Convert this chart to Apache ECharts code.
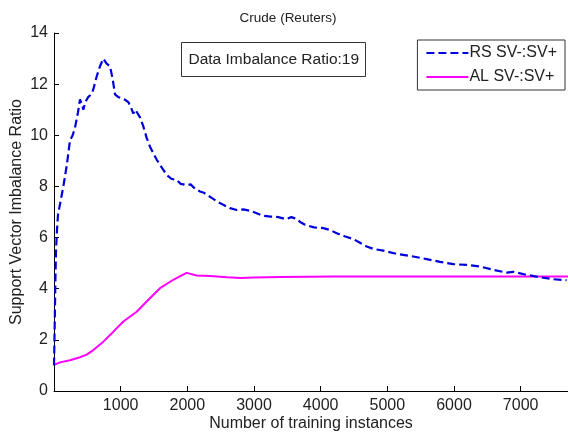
<!DOCTYPE html>
<html>
<head>
<meta charset="utf-8">
<script src="https://cdn.jsdelivr.net/npm/echarts@6/dist/echarts.min.js"></script>
<style>html,body{margin:0;padding:0;background:#fff}#c{width:568px;height:434px}</style>
</head>
<body>
<div id="c"></div>
<script>
const titleText = 'Crude (Reuters)';
const annotationText = 'Data Imbalance Ratio:19';
const xTicks = [0, 1000, 2000, 3000, 4000, 5000, 6000, 7000];
const yTicks = [0, 2, 4, 6, 8, 10, 12, 14];
const rsName = 'RS SV-:SV+';
const alName = 'AL SV-:SV+';
const rsX = [0,10,20,30,45,60,90,140,190,240,280,315,360,390,420,440,470,515,560,590,620,640,690,740,790,840,880,915,960,1015,1060,1115,1160,1190,1220,1250,1290,1340,1390,1440,1490,1540,1600,1690,1760,1840,1900,1990,2050,2100,2190,2250,2365,2450,2540,2640,2740,2840,2940,3040,3140,3250,3365,3480,3560,3615,3700,3765,3900,4040,4140,4240,4360,4490,4590,4690,4800,4940,5140,5390,5590,5790,5990,6190,6390,6590,6790,6890,7090,7290,7490,7690];
const rsY = [1.0,2.5,4.2,5.5,6.3,6.9,7.3,8.0,8.8,9.8,10.0,10.3,10.9,11.4,11.2,11.0,11.3,11.5,11.6,11.8,12.1,12.3,12.7,13.0,12.8,12.7,12.2,11.6,11.5,11.45,11.4,11.3,11.05,10.85,11.0,11.0,10.7,10.35,9.9,9.55,9.3,9.05,8.8,8.45,8.3,8.25,8.1,8.05,8.08,7.95,7.8,7.75,7.55,7.4,7.28,7.15,7.08,7.1,7.05,6.95,6.85,6.82,6.8,6.72,6.8,6.75,6.6,6.5,6.4,6.37,6.3,6.17,6.05,5.94,5.8,5.65,5.55,5.49,5.36,5.26,5.16,5.05,4.96,4.93,4.87,4.74,4.63,4.66,4.54,4.45,4.37,4.33];
const alX = [0,90,240,390,490,590,740,890,1040,1240,1390,1590,1790,1900,1990,2140,2340,2600,2800,3000,3400,3800,4200,5000,6000,7000,7710];
const alY = [1.02,1.12,1.2,1.32,1.42,1.6,1.93,2.32,2.72,3.1,3.5,4.02,4.35,4.5,4.62,4.52,4.5,4.45,4.42,4.44,4.46,4.47,4.48,4.48,4.48,4.48,4.48];

const font = 'Liberation Sans, Arial, sans-serif';
const chart = echarts.init(document.getElementById('c'), null, {renderer: 'canvas'});
const pairs = (xs, ys) => xs.map((x, i) => [x, ys[i]]);
chart.setOption({
  backgroundColor: '#fff',
  animation: false,
  title: {
    text: titleText, left: 283, top: 6, textAlign: 'center',
    textStyle: {fontFamily: font, fontSize: 13.5, fontWeight: 'normal', color: '#222'}
  },
  grid: {left: 54, right: 0, top: 33, bottom: 43, containLabel: false, outerBoundsMode: 'none'},
  legend: {
    right: 3, top: 40, orient: 'vertical',
    data: [rsName, alName],
    itemWidth: 42, itemHeight: 14, itemGap: 8,
    padding: [5, 8, 5, 8],
    itemStyle: {opacity: 0},
    borderColor: '#333', borderWidth: 1, backgroundColor: '#fff',
    textStyle: {fontFamily: font, fontSize: 16, color: '#222', padding: [0,0,0,-4]}
  },
  xAxis: {
    type: 'value', min: 0, max: 7710, interval: 1000,
    name: 'Number of training instances', nameLocation: 'middle', nameGap: 25,
    nameMoveOverlap: false,
    nameTextStyle: {fontFamily: font, fontSize: 16, color: '#222'},
    axisLine: {lineStyle: {color: '#000', width: 1}},
    axisTick: {inside: true, length: 5, lineStyle: {color: '#000'}},
    axisLabel: {fontFamily: font, fontSize: 16, color: '#222', margin: 7,
      formatter: v => (xTicks.indexOf(v) > 0 ? String(v) : '')},
    splitLine: {show: false}
  },
  yAxis: {
    type: 'value', min: 0, max: 14, interval: 2,
    name: 'Support Vector Imbalance Ratio', nameLocation: 'middle', nameGap: 29,
    nameMoveOverlap: false,
    nameTextStyle: {fontFamily: font, fontSize: 16, color: '#222'},
    axisLine: {show: true, lineStyle: {color: '#000', width: 1}},
    axisTick: {show: true, inside: true, length: 5, lineStyle: {color: '#000'}},
    axisLabel: {fontFamily: font, fontSize: 16, color: '#222', margin: 6,
      formatter: v => (yTicks.indexOf(v) >= 0 ? String(v) : '')},
    splitLine: {show: false}
  },
  series: [
    {name: rsName, type: 'line', data: pairs(rsX, rsY), showSymbol: false, symbol: 'none',
     lineStyle: {color: '#0000dd', width: 2.2, type: [8, 4]}, itemStyle: {color: '#0000dd'}, z: 3},
    {name: alName, type: 'line', data: pairs(alX, alY), showSymbol: false, symbol: 'none',
     lineStyle: {color: '#ff00ff', width: 2}, itemStyle: {color: '#ff00ff'}, z: 2}
  ],
  graphic: [{
    type: 'group', left: 181, top: 42,
    children: [
      {type: 'rect', shape: {x: 0, y: 0, width: 184, height: 34},
       style: {fill: '#fff', stroke: '#333', lineWidth: 1}},
      {type: 'text', x: 7, y: 17,
       style: {text: annotationText, font: '15.5px ' + font, fill: '#222', verticalAlign: 'middle'}}
    ]
  }]
});
</script>
</body>
</html>
